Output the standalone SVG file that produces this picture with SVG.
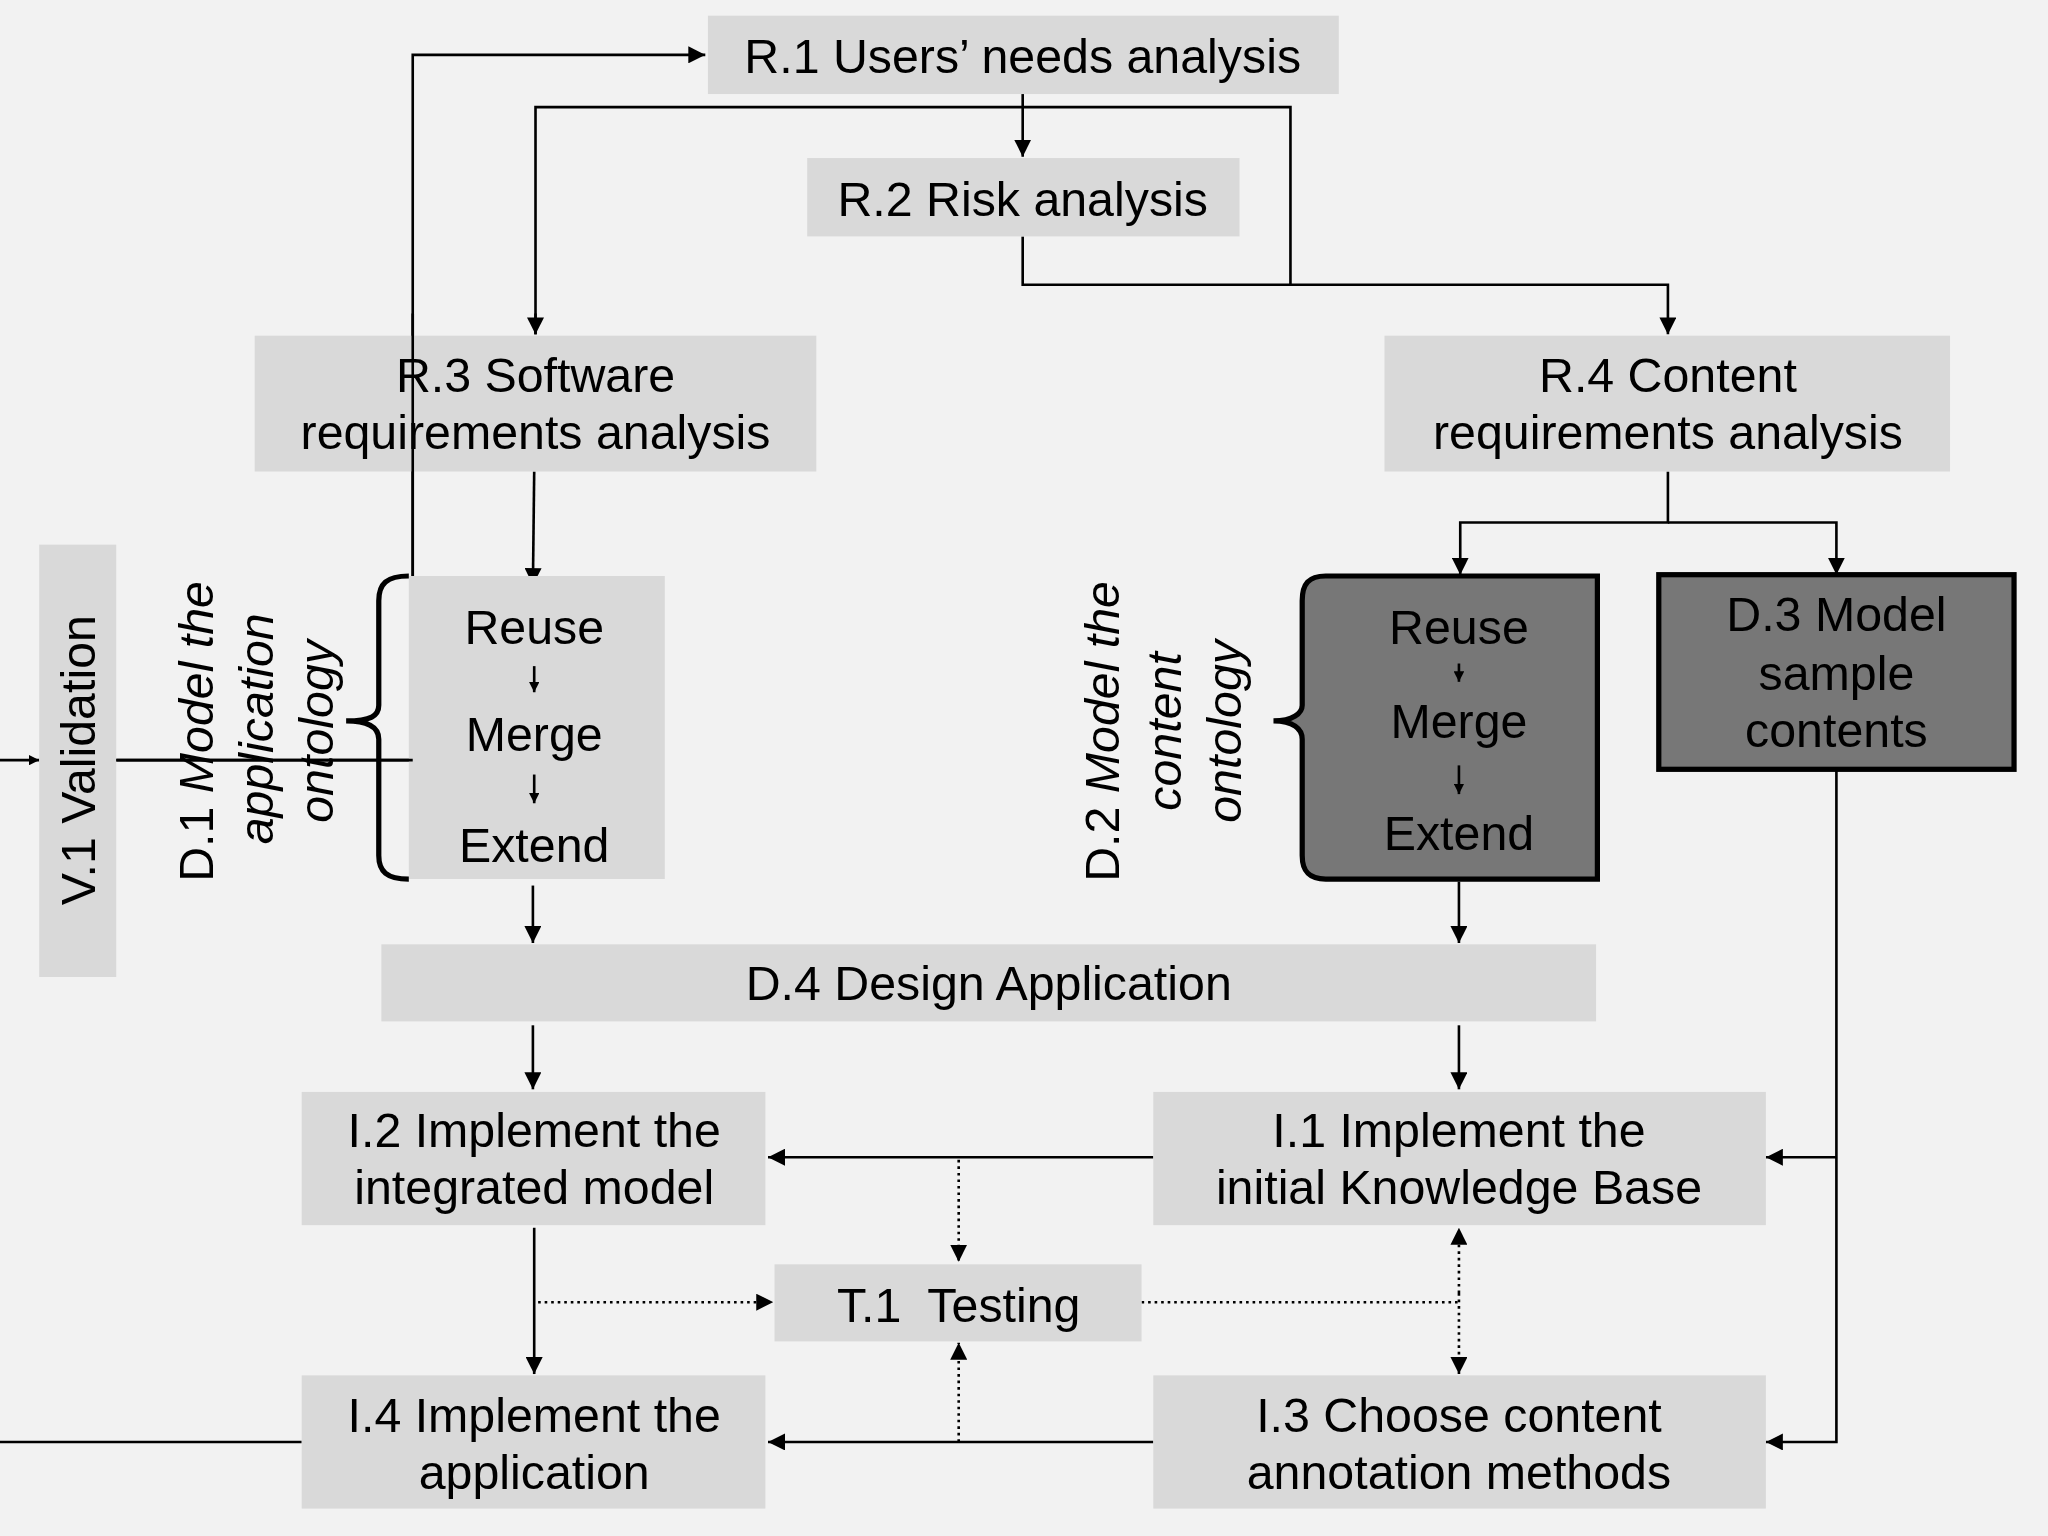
<svg xmlns="http://www.w3.org/2000/svg" width="2048" height="1536" viewBox="0 0 2048 1536">
<defs>
<marker id="a" viewBox="0 0 10 10" refX="10" refY="5" markerWidth="8" markerHeight="8" markerUnits="userSpaceOnUse" orient="auto"><path d="M0,0L10,5L0,10z" fill="#000"/></marker>
<marker id="b" viewBox="0 0 10 10" refX="10" refY="5" markerWidth="13" markerHeight="13" markerUnits="userSpaceOnUse" orient="auto"><path d="M0,0L10,5L0,10z" fill="#000"/></marker>
<style>
.box{fill:#d9d9d9}
.dark{fill:#777;stroke:#000;stroke-width:4}
text{font-family:"Liberation Sans",Arial,sans-serif;font-size:37px;fill:#000;text-anchor:middle}
.c{fill:none;stroke:#000;stroke-width:2}
.d{fill:none;stroke:#000;stroke-width:2;stroke-dasharray:2 3}
.it{font-style:italic}
</style>
</defs>
<rect width="2048" height="1536" fill="#f2f2f2"/>
<g transform="scale(1.306122)">
<g id="connectors">
<path class="c" d="M0,582H30" marker-end="url(#a)"/>
<path class="c" d="M89,582H316V42H540" marker-end="url(#b)"/>
<path class="c" d="M783,72V120" marker-end="url(#b)"/>
<path class="c" d="M410,256V82H988V218"/>
<path class="c" d="M410,240V256" marker-end="url(#b)"/>
<path class="c" d="M783,181V218H1277V256" marker-end="url(#b)"/>
<path class="c" d="M409,361L408,448" marker-end="url(#b)"/>
<path class="c" d="M1277,361V400H1118V440" marker-end="url(#b)"/>
<path class="c" d="M1277,400H1406V440" marker-end="url(#b)"/>
<path class="c" d="M408,678V722" marker-end="url(#b)"/>
<path class="c" d="M1117,675V722" marker-end="url(#b)"/>
<path class="c" d="M408,785V834" marker-end="url(#b)"/>
<path class="c" d="M1117,785V834" marker-end="url(#b)"/>
<path class="c" d="M883,886H588" marker-end="url(#b)"/>
<path class="c" d="M1406,589V1104H1352" marker-end="url(#b)"/>
<path class="c" d="M1406,886H1352" marker-end="url(#b)"/>
<path class="c" d="M409,940V1052" marker-end="url(#b)"/>
<path class="c" d="M883,1104H588" marker-end="url(#b)"/>
<path class="c" d="M231,1104H0"/>
<path class="d" d="M734,888V966" marker-end="url(#b)"/>
<path class="d" d="M412,997H592" marker-end="url(#b)"/>
<path class="d" d="M874,997H1117"/>
<path class="d" d="M1117,990V940" marker-end="url(#b)"/>
<path class="d" d="M1117,990V1052" marker-end="url(#b)"/>
<path class="d" d="M734,1104V1028" marker-end="url(#b)"/>
</g>
<g id="R1"><rect class="box" x="542" y="12" width="483" height="60"/><text x="783" y="56">R.1 Users’ needs analysis</text></g>
<g id="R2"><rect class="box" x="618" y="121" width="331" height="60"/><text x="783" y="165">R.2 Risk analysis</text></g>
<g id="R3"><rect class="box" x="195" y="257" width="430" height="104"/><text x="410" y="300">R.3 Software</text><text x="410" y="344">requirements analysis</text></g>
<path class="c" d="M316,240V582"/>
<g id="R4"><rect class="box" x="1060" y="257" width="433" height="104"/><text x="1277" y="300">R.4 Content</text><text x="1277" y="344">requirements analysis</text></g>
<g id="V1"><rect class="box" x="30" y="417" width="59" height="331"/><text transform="translate(73,582) rotate(-90)">V.1  Validation</text></g>
<g id="D1">
<rect class="box" x="313" y="441" width="196" height="232"/>
<path d="M313,441C296,441 290,447 290,460V540C290,548 284,552 265,552C284,552 290,558 290,566V655C290,667 296,673 313,673" fill="none" stroke="#000" stroke-width="4"/>
<text x="409" y="493">Reuse</text><text x="409" y="575">Merge</text><text x="409" y="660">Extend</text>
<path class="c" d="M409,510V530" marker-end="url(#a)"/><path class="c" d="M409,593V615" marker-end="url(#a)"/>
<text transform="translate(163,560) rotate(-90)">D.1 <tspan class="it">Model the</tspan></text>
<text class="it" transform="translate(209,558) rotate(-90)">application</text>
<text class="it" transform="translate(255,560) rotate(-90)">ontology</text>
<path class="c" d="M89,582H316"/>
</g>
<g id="D2">
<path class="dark" d="M1015,441H1223V673H1015C1002,673 997,667 997,655V566C997,558 990,552 975,552C990,552 997,546 997,540V460C997,447 1002,441 1015,441Z"/>
<text x="1117" y="493">Reuse</text><text x="1117" y="565">Merge</text><text x="1117" y="651">Extend</text>
<path class="c" d="M1117,508V522" marker-end="url(#a)"/><path class="c" d="M1117,586V608" marker-end="url(#a)"/>
<text transform="translate(857,560) rotate(-90)">D.2 <tspan class="it">Model the</tspan></text>
<text class="it" transform="translate(904,560) rotate(-90)">content</text>
<text class="it" transform="translate(950,560) rotate(-90)">ontology</text>
</g>
<g id="D3"><rect class="dark" x="1270" y="440" width="272" height="149"/><text x="1406" y="483">D.3 Model</text><text x="1406" y="528">sample</text><text x="1406" y="572">contents</text></g>
<g id="D4"><rect class="box" x="292" y="723" width="930" height="59"/><text x="757" y="766">D.4 Design Application</text></g>
<g id="I2"><rect class="box" x="231" y="836" width="355" height="102"/><text x="409" y="878">I.2 Implement the</text><text x="409" y="922">integrated model</text></g>
<g id="I1"><rect class="box" x="883" y="836" width="469" height="102"/><text x="1117" y="878">I.1 Implement the</text><text x="1117" y="922">initial Knowledge Base</text></g>
<g id="T1"><rect class="box" x="593" y="968" width="281" height="59"/><text x="734" y="1012" xml:space="preserve">T.1  Testing</text></g>
<g id="I4"><rect class="box" x="231" y="1053" width="355" height="102"/><text x="409" y="1096">I.4 Implement the</text><text x="409" y="1140">application</text></g>
<g id="I3"><rect class="box" x="883" y="1053" width="469" height="102"/><text x="1117" y="1096">I.3 Choose content</text><text x="1117" y="1140">annotation methods</text></g>
</g>
</svg>
